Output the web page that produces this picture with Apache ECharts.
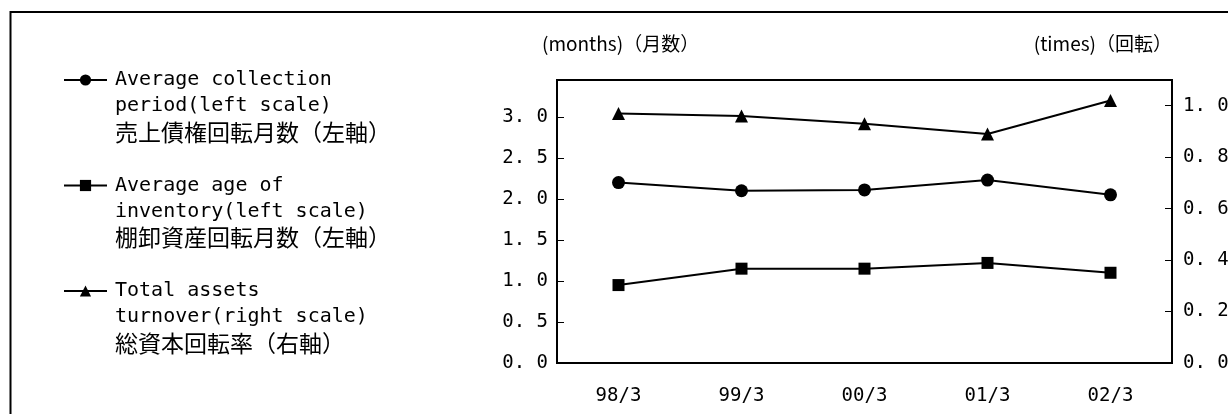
<!DOCTYPE html>
<html>
<head>
<meta charset="utf-8">
<script src="https://cdn.jsdelivr.net/npm/echarts@6/dist/echarts.min.js"></script>
<style>
html,body{margin:0;padding:0;background:#fff;}
#chart{width:1228px;height:414px;}
</style>
</head>
<body>
<div id="chart"></div>
<script>
// ---- data ----
var categories = ['98/3', '99/3', '00/3', '01/3', '02/3'];
var collectionPeriod = [2.20, 2.10, 2.11, 2.23, 2.05];   // months, left scale
var inventoryAge = [0.95, 1.15, 1.15, 1.22, 1.10];       // months, left scale
var assetsTurnover = [0.97, 0.96, 0.93, 0.89, 1.02];     // times, right scale
var seriesNames = ['collection', 'inventory', 'turnover'];
var legendLatin = [
  ['Average collection', 'period(left scale)'],
  ['Average age of', 'inventory(left scale)'],
  ['Total assets', 'turnover(right scale)']
];
var legendJapanese = ['売上債権回転月数（左軸）', '棚卸資産回転月数（左軸）', '総資本回転率（右軸）'];
var leftAxisName = '(months)（月数）';
var rightAxisName = '(times)（回転）';

var MONO = '"DejaVu Sans Mono", monospace';
var JP = '"Noto Sans CJK JP", sans-serif';

function fmt(v) { return v.toFixed(1).replace('.', '. '); }

var chart = echarts.init(document.getElementById('chart'), null, {renderer: 'canvas'});

function makeSeries(name, data, symbol, size, yIdx) {
  return {
    name: name, type: 'line', data: data, yAxisIndex: yIdx,
    symbol: symbol, symbolSize: size,
    lineStyle: {color: '#000', width: 2},
    itemStyle: {color: '#000'},
    emphasis: {disabled: true},
    z: 3
  };
}

var option = {
  animation: false,
  backgroundColor: '#fff',
  grid: {left: 557, top: 80, right: 56, bottom: 51, show: true, borderColor: '#000', borderWidth: 2,
         backgroundColor: 'transparent', containLabel: false, outerBoundsMode: 'none'},
  legend: {
    orient: 'vertical', left: 63, top: 18, padding: 0,
    itemWidth: 43, itemHeight: 14, itemGap: -20,
    selectedMode: false,
    data: seriesNames,
    formatter: function (name) {
      var i = seriesNames.indexOf(name);
      return '{l| }\n{l| }\n{l|' + legendLatin[i][0] + '}\n{l|' + legendLatin[i][1] + '}\n{j|' + legendJapanese[i] + '}';
    },
    textStyle: {
      color: '#000',
      rich: {
        l: {fontFamily: MONO, fontSize: 20, lineHeight: 26, color: '#000', padding: [0, 0, 0, 3]},
        j: {fontFamily: JP, fontSize: 23, lineHeight: 26, color: '#000', padding: [0, 0, 0, 3]}
      }
    }
  },
  xAxis: {
    type: 'category', data: categories, boundaryGap: true,
    axisLine: {lineStyle: {color: '#000', width: 2}},
    axisTick: {inside: true, length: 7, lineStyle: {color: '#000', width: 1}},
    axisLabel: {color: '#000', fontFamily: MONO, fontSize: 19, margin: 24},
    splitLine: {show: false}
  },
  yAxis: [
    {
      type: 'value', min: 0, max: 3.45, interval: 0.5, position: 'left',
      axisLine: {show: true, lineStyle: {color: '#000', width: 2}},
      axisTick: {show: true, inside: true, length: 7, lineStyle: {color: '#000', width: 1}},
      axisLabel: {color: '#000', fontFamily: MONO, fontSize: 19, margin: 9, showMaxLabel: false, formatter: fmt},
      splitLine: {show: false}
    },
    {
      type: 'value', min: 0, max: 1.1, interval: 0.2, position: 'right',
      axisLine: {show: true, lineStyle: {color: '#000', width: 2}},
      axisTick: {show: true, inside: true, length: 7, lineStyle: {color: '#000', width: 1}},
      axisLabel: {color: '#000', fontFamily: MONO, fontSize: 19, margin: 11, showMaxLabel: false, formatter: fmt},
      splitLine: {show: false}
    }
  ],
  graphic: [
    {type: 'rect', silent: true, shape: {x: 10.5, y: 12, width: 1400, height: 600},
     style: {fill: 'none', stroke: '#000', lineWidth: 2}},
    {type: 'text', silent: true, x: 542, y: 44,
     style: {text: leftAxisName, fontFamily: JP, fontSize: 19, fill: '#000', textAlign: 'left', textVerticalAlign: 'middle'}},
    {type: 'text', silent: true, x: 1172, y: 44,
     style: {text: rightAxisName, fontFamily: JP, fontSize: 19, fill: '#000', textAlign: 'right', textVerticalAlign: 'middle'}}
  ],
  series: [
    makeSeries(seriesNames[0], collectionPeriod, 'circle', 13, 0),
    makeSeries(seriesNames[1], inventoryAge, 'rect', 12, 0),
    makeSeries(seriesNames[2], assetsTurnover, 'triangle', 13, 1)
  ]
};
chart.setOption(option);
</script>
</body>
</html>
